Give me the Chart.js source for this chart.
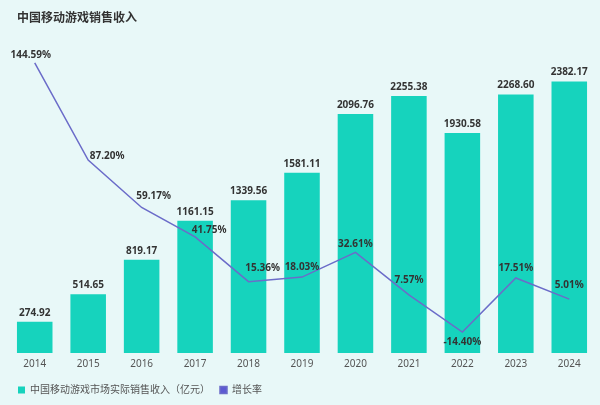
<!DOCTYPE html>
<html>
<head>
<meta charset="utf-8">
<script src="https://cdn.jsdelivr.net/npm/chart.js@4.4.1/dist/chart.umd.min.js"></script>
<style>
html, body { margin: 0; padding: 0; background: #e8f8f8; }
#wrap { width: 600px; height: 405px; position: relative; }
</style>
</head>
<body>
<div id="wrap"><canvas id="myChart"></canvas></div>
<script>
// data
const years = ['2014', '2015', '2016', '2017', '2018', '2019', '2020', '2021', '2022', '2023', '2024'];
const revenue = [274.92, 514.65, 819.17, 1161.15, 1339.56, 1581.11, 2096.76, 2255.38, 1930.58, 2268.60, 2382.17];
const growth = [144.59, 87.20, 59.17, 41.75, 15.36, 18.03, 32.61, 7.57, -14.40, 17.51, 5.01];

const titleText = '中国移动游戏销售收入';
const barLabel = '中国移动游戏市场实际销售收入（亿元）';
const lineLabel = '增长率';

const FONT = '"Noto Sans", "Noto Sans CJK SC", sans-serif';

// title + value labels, drawn straight on the canvas
const extras = {
    id: 'extras',
    afterDatasetsDraw(chart, args, opts) {
        const ctx = chart.ctx;
        ctx.save();
        ctx.fillStyle = '#333';
        ctx.textBaseline = 'middle';

        ctx.textAlign = 'left';
        ctx.font = 'bold 12px ' + FONT;
        ctx.fillText(titleText, 17, 19);

        ctx.textAlign = 'center';
        ctx.font = 'bold 10px ' + FONT;
        chart.getDatasetMeta(0).data.forEach((bar, i) => {
            ctx.fillText(revenue[i].toFixed(2), bar.x, bar.y - 9);
        });
        chart.getDatasetMeta(1).data.forEach((pt, i) => {
            const off = opts.lineOffsets[i];
            ctx.fillText(growth[i].toFixed(2) + '%', pt.x + off[0], pt.y + off[1]);
        });
        ctx.restore();
    }
};

const canvas = document.getElementById('myChart');

const myChart = new Chart(canvas, {
    type: 'bar',
    data: {
        labels: years,
        datasets: [
            {
                label: barLabel,
                data: revenue,
                yAxisID: 'y',
                backgroundColor: '#16d3bd',
                barPercentage: 0.665,
                categoryPercentage: 1,
                order: 1
            },
            {
                type: 'line',
                label: lineLabel,
                data: growth,
                yAxisID: 'y1',
                borderColor: '#6b6cc9',
                backgroundColor: '#5c5ad2',
                borderWidth: 1.5,
                pointRadius: 0,
                tension: 0,
                order: 0
            }
        ]
    },
    options: {
        animation: false,
        responsive: true,
        maintainAspectRatio: false,
        layout: { padding: { top: 40, left: 8, right: 4, bottom: 0 } },
        scales: {
            x: {
                grid: { display: false, drawTicks: false },
                border: { display: false },
                ticks: { color: '#555', padding: 5, font: { size: 10, family: FONT } }
            },
            y: { display: false, min: 0, max: 2747 },
            y1: { display: false, min: -26.8, max: 158.1 }
        },
        plugins: {
            title: { display: false },
            tooltip: { enabled: false },
            legend: {
                position: 'bottom',
                align: 'start',
                labels: {
                    boxWidth: 7,
                    boxHeight: 7,
                    padding: 10,
                    color: '#555',
                    font: { size: 10, family: FONT },
                    sort: (a, b) => a.datasetIndex - b.datasetIndex
                }
            },
            extras: {
                lineOffsets: [[-4, -8], [19, -4], [12, -11], [14, -7], [14, -13], [0, -10], [0, -8], [0, -15], [0, 10], [0, -10], [0, -14]]
            }
        }
    },
    plugins: [extras]
});
</script>
</body>
</html>
